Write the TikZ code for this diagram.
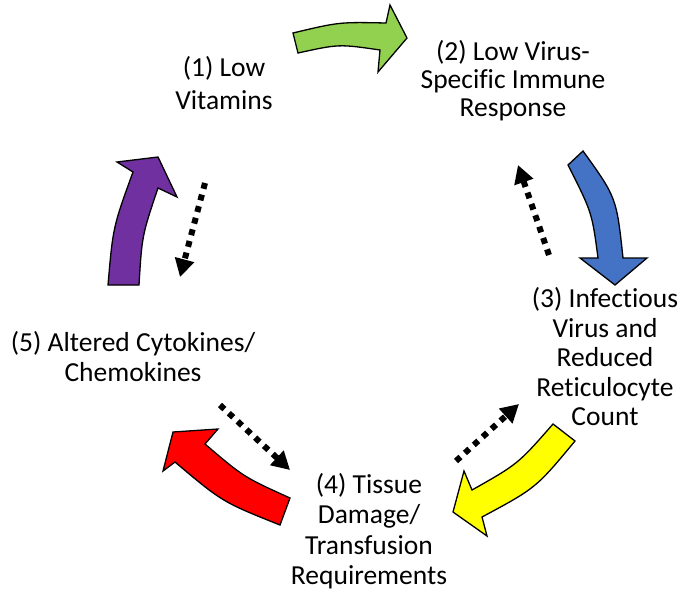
\documentclass[tikz,border=0pt]{standalone}
\usepackage{fontspec}
\setmainfont{Carlito}[Ligatures={NoCommon,NoDiscretionary}]
\usetikzlibrary{arrows.meta}
\definecolor{agreen}{HTML}{92D050}
\definecolor{ablue}{HTML}{4472C4}
\definecolor{ayellow}{HTML}{FFFF00}
\definecolor{ared}{HTML}{FF0000}
\definecolor{apurple}{HTML}{7030A0}
\begin{document}
\begin{tikzpicture}[x=1pt,y=-1pt,
 blockarrow/.style={draw=black, line width=1.3pt, line join=miter},
 feedback/.style={line width=6pt, dash pattern=on 6pt off 6pt, -{Triangle[length=18pt,width=19pt]}},
 txt/.style={align=center, inner sep=0pt, font=\fontsize{27.5pt}{#1}\selectfont},
]
\useasboundingbox (0,0) rectangle (690,600);
% block arrows
\draw[blockarrow, fill=agreen] (293,33) .. controls (339,22) .. (386,23) -- (390,5) -- (407,38) -- (378,72) -- (380,50) .. controls (339,44) .. (298,53) -- cycle;
\draw[blockarrow, fill=ablue] (568,165) .. controls (592,212.5) .. (598,258) -- (580,258) -- (615,285) -- (647,258) -- (623,258) .. controls (616.5,197.5) .. (583,151) -- cycle;
\draw[blockarrow, fill=ayellow] (553,424) .. controls (518,464) .. (472,490) -- (464,471) -- (453,512) -- (487,536) -- (482,517) .. controls (536,488) .. (575,441) -- cycle;
\draw[blockarrow, fill=ared] (290,498) .. controls (243.6,477) .. (205,444) -- (218,429) -- (173,432) -- (163,471) -- (175,462) .. controls (222.4,502) .. (280,525) -- cycle;
\draw[blockarrow, fill=apurple] (108,285) .. controls (113,227) .. (133,172) -- (117,162) -- (158,157) -- (177,197) -- (158,188) .. controls (142,235.5) .. (139,285) -- cycle;
% dotted feedback arrows
\coordinate (d1s) at (205,183); \coordinate (d1e) at (180,277);
\coordinate (d2s) at (549,255); \coordinate (d2e) at (518,165);
\coordinate (d3s) at (456,461); \coordinate (d3e) at (519,404);
\coordinate (d4s) at (220,405); \coordinate (d4e) at (290,470);
\draw[feedback] (d1s) -- (d1e);
\draw[feedback] (d2s) -- (d2e);
\draw[feedback] (d3s) -- (d3e);
\draw[feedback] (d4s) -- (d4e);
% labels
\node[txt=33pt] (t1) at (224,82.7) {(1) Low\\Vitamins};
\node[txt=28pt] (t2) at (513,80.7) {(2) Low Virus-\\Specific Immune\\Response};
\node[txt=29.5pt] (t3) at (605,357) {(3) Infectious\\Virus and\\Reduced\\Reticulocyte\\Count};
\node[txt=30.3pt] (t4) at (369,531) {(4) Tissue\\Damage/\\Transfusion\\Requirements};
\node[txt=30pt] (t5) at (133,357) {(5) Altered Cytokines/\\Chemokines};
\end{tikzpicture}
\end{document}
